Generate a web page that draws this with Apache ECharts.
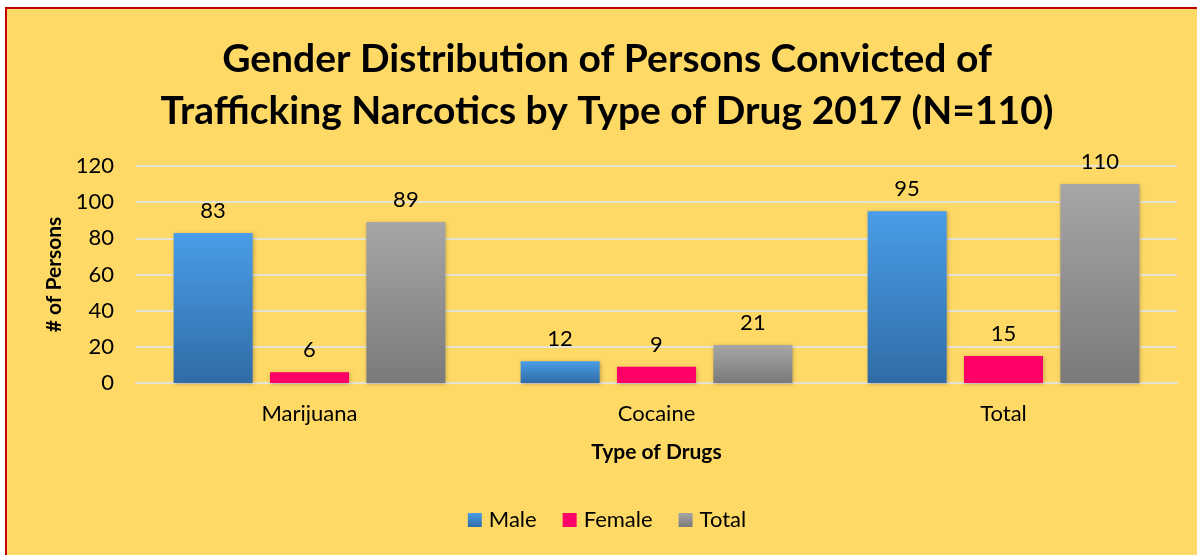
<!DOCTYPE html>
<html lang="en">

<head>
    <meta charset="UTF-8">
    <title>Gender Distribution</title>
    <style>
        html,
        body {
            margin: 0;
            padding: 0;
            width: 100%;
            height: 100%;
            background: #fff;
            overflow: hidden;
        }

        #main {
            position: absolute;
            left: 5px;
            top: 7px;
            width: 1200px;
            height: 560px;
            border: 2px solid #c00000;
            background: #ffd966;
        }
    </style>
</head>

<body>
    <div id="main"></div>
    <script src="https://cdn.jsdelivr.net/npm/echarts@6/dist/echarts.min.js"></script>
    <script type="text/javascript">
        var categories = ['Marijuana', 'Cocaine', 'Total'];
        var male = [83, 12, 95];
        var female = [6, 9, 15];
        var total = [89, 21, 110];
        var yTicks = [0, 20, 40, 60, 80, 100, 120];

        var font = 'Lato, "Open Sans", sans-serif';
        var myChart = echarts.init(document.getElementById('main'));

        function grad(top, bottom) {
            return new echarts.graphic.LinearGradient(0, 0, 0, 1, [
                { offset: 0, color: top },
                { offset: 1, color: bottom }
            ]);
        }

        function barSeries(name, data, color) {
            return {
                name: name,
                type: 'bar',
                data: data,
                barWidth: 79,
                barGap: '22%',
                itemStyle: {
                    color: color,
                    shadowColor: 'rgba(0,0,0,0.25)',
                    shadowBlur: 4,
                    shadowOffsetX: 1,
                    shadowOffsetY: 1
                },
                label: {
                    show: true,
                    position: 'top',
                    distance: 11,
                    color: '#000',
                    fontSize: 22,
                    fontFamily: font
                }
            };
        }

        var option = {
            textStyle: { fontFamily: font },
            title: {
                text: 'Gender Distribution of Persons Convicted of\nTrafficking Narcotics by Type of Drug 2017 (N=110)',
                left: 'center',
                top: 19,
                textStyle: {
                    fontSize: 39,
                    fontWeight: 'bold',
                    color: '#000',
                    lineHeight: 52,
                    fontFamily: font
                }
            },
            legend: {
                bottom: 33,
                left: 'center',
                itemWidth: 14,
                itemHeight: 14,
                itemGap: 26,
                icon: 'rect',
                textStyle: { fontSize: 22, color: '#000', fontFamily: font, padding: [0, 0, 0, 2] },
                data: ['Male', 'Female', 'Total']
            },
            grid: {
                left: 129,
                right: 30,
                top: 157,
                height: 217
            },
            xAxis: {
                type: 'category',
                data: categories,
                name: 'Type of Drugs',
                nameLocation: 'middle',
                nameGap: 59,
                nameTextStyle: { fontSize: 21, fontWeight: 'bold', color: '#000' },
                axisLine: { show: true, lineStyle: { color: '#e6e2d6', width: 2 } },
                axisTick: { show: false },
                axisLabel: { fontSize: 22, color: '#000', margin: 20 }
            },
            yAxis: {
                type: 'value',
                min: yTicks[0],
                max: yTicks[yTicks.length - 1],
                interval: 20,
                name: '# of Persons',
                nameLocation: 'middle',
                nameGap: 68,
                nameTextStyle: { fontSize: 21, fontWeight: 'bold', color: '#000' },
                axisLine: { show: false },
                axisTick: { show: false },
                axisLabel: { fontSize: 22, color: '#000', margin: 22 },
                splitLine: { lineStyle: { color: '#e6e2d6', width: 2 } }
            },
            series: [
                barSeries('Male', male, grad('#4a9de8', '#2f6ca6')),
                barSeries('Female', female, '#ff0066'),
                barSeries('Total', total, grad('#a6a6a6', '#7a7a7a'))
            ]
        };
        myChart.setOption(option);
    </script>
</body>

</html>
